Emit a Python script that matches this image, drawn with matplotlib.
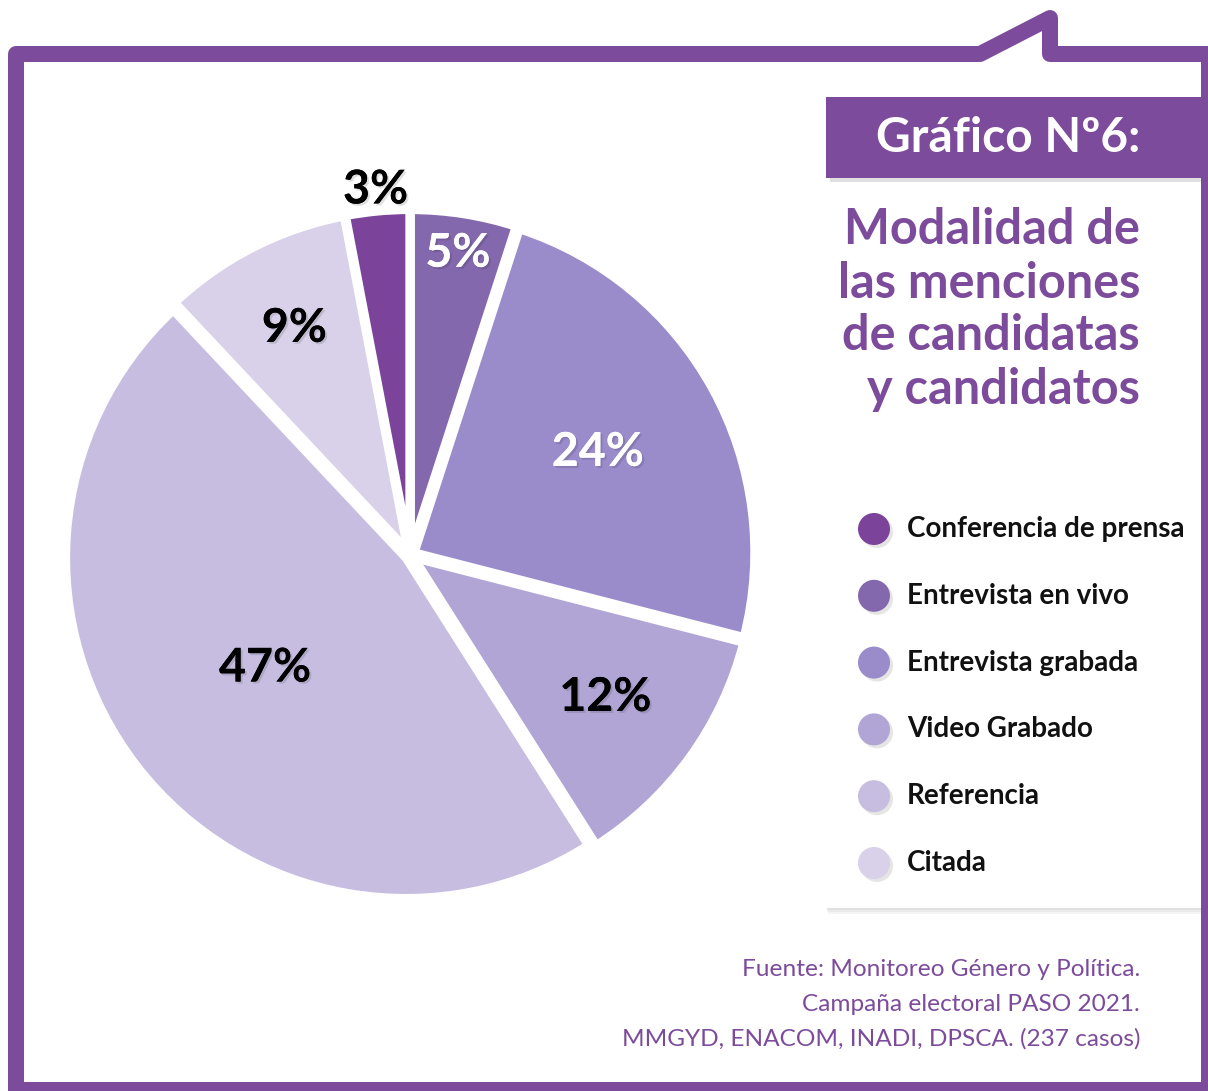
import matplotlib
matplotlib.use("Agg")
import matplotlib.pyplot as plt
import matplotlib.patheffects as pe
from matplotlib.patches import Rectangle, Circle
import numpy as np

# data (clockwise from the "Conferencia" slice just left of 12 o'clock)
categories = ["Conferencia de prensa", "Entrevista en vivo", "Entrevista grabada",
              "Video Grabado", "Referencia", "Citada"]
shares = [3, 5, 24, 12, 47, 9]
colors = ["#7B4399", "#8468AD", "#9A8BCB", "#B0A5D4", "#C6BDE1", "#D9D1E9"]
label_colors = ["black", "white", "white", "black", "black", "black"]
label_dist = [1.08, 0.90, 0.63, 0.71, 0.54, 0.75]

title = "Gráfico Nº6:"
subtitle = ["Modalidad de", "las menciones", "de candidatas", "y candidatos"]
source = ["Fuente: Monitoreo Género y Política.",
          "Campaña electoral PASO 2021.",
          "MMGYD, ENACOM, INADI, DPSCA. (237 casos)"]

PURPLE = "#7D4B9B"
FONT = "Lato"
W, H = 1208, 1091

fig = plt.figure(figsize=(W / 100, H / 100), dpi=100)
fig.patch.set_facecolor("white")

# background layer in pixel coordinates
bg = fig.add_axes([0, 0, 1, 1])
bg.set_xlim(0, W)
bg.set_ylim(H, 0)
bg.axis("off")

lw = 16 * 0.72
fx = [16, 16, 980, 1050, 1050, 1209, 1209, 16]
fy = [1090, 54, 54, 18, 54, 54, 1090, 1090]
bg.plot(fx, fy, color=PURPLE, lw=lw, solid_joinstyle="round", solid_capstyle="round")

# title box
bg.add_patch(Rectangle((830, 101), 380, 81, color="#000000", alpha=0.12, lw=0))
bg.add_patch(Rectangle((826, 97), 384, 81, color=PURPLE, lw=0, zorder=3))
bg.text(1140, 138, title, color="white", fontsize=34.5, fontweight="bold",
        family=FONT, ha="right", va="center", zorder=4)

for i, line in enumerate(subtitle):
    bg.text(1140, 230 + 53 * i, line, color=PURPLE, fontsize=35, fontweight="bold",
            family=FONT, ha="right", va="center")

# legend box
for k, a in enumerate([0.04, 0.04, 0.04]):
    bg.add_patch(Rectangle((826 + k, 482 + 2 + 2 * k), 380, 426, color="black", alpha=a, lw=0))
bg.add_patch(Rectangle((826, 482), 380, 426, color="white", lw=0, zorder=2))
bg.plot([1209, 1209], [470, 920], color=PURPLE, lw=lw, zorder=3)
for i, (cat, col) in enumerate(zip(categories, colors)):
    y = 529 + 66.8 * i
    bg.add_patch(Circle((877, y + 3), 16, color="black", alpha=0.10, lw=0, zorder=3))
    bg.add_patch(Circle((874, y), 16, color=col, lw=0, zorder=4))
    bg.text(907, y, cat, fontsize=20, fontweight="bold", family=FONT,
            ha="left", va="center", color="#111111", zorder=4)

for i, line in enumerate(source):
    bg.text(1140, 970 + 34.5 * i, line, color=PURPLE, fontsize=17.6, family=FONT,
            ha="right", va="center")

# pie
cx, cy, R = 410, 555, 340
half = 1.25 * R
pa = fig.add_axes([(cx - half) / W, (H - cy - half) / H, 2 * half / W, 2 * half / H])
start = 90 + shares[0] * 3.6
wedges, _ = pa.pie(shares, colors=colors, startangle=start, counterclock=False,
                   explode=[0.015] * len(shares),
                   wedgeprops=dict(edgecolor="white", linewidth=6, joinstyle="miter"))
pa.set_xlim(-1.25, 1.25)
pa.set_ylim(-1.25, 1.25)
pa.set_aspect("equal")
pa.axis("off")

shadow = [pe.withSimplePatchShadow(offset=(1.5, -1.5), shadow_rgbFace="black", alpha=0.12), pe.Normal()]
for w, s, tc, d in zip(wedges, shares, label_colors, label_dist):
    ang = np.deg2rad((w.theta1 + w.theta2) / 2)
    t = pa.text(d * np.cos(ang), d * np.sin(ang), f"{s}%", color=tc, fontsize=33.5,
                fontweight="bold", family=FONT, ha="center", va="center", clip_on=False)
    t.set_path_effects(shadow)

fig.savefig("out.png", dpi=100)
